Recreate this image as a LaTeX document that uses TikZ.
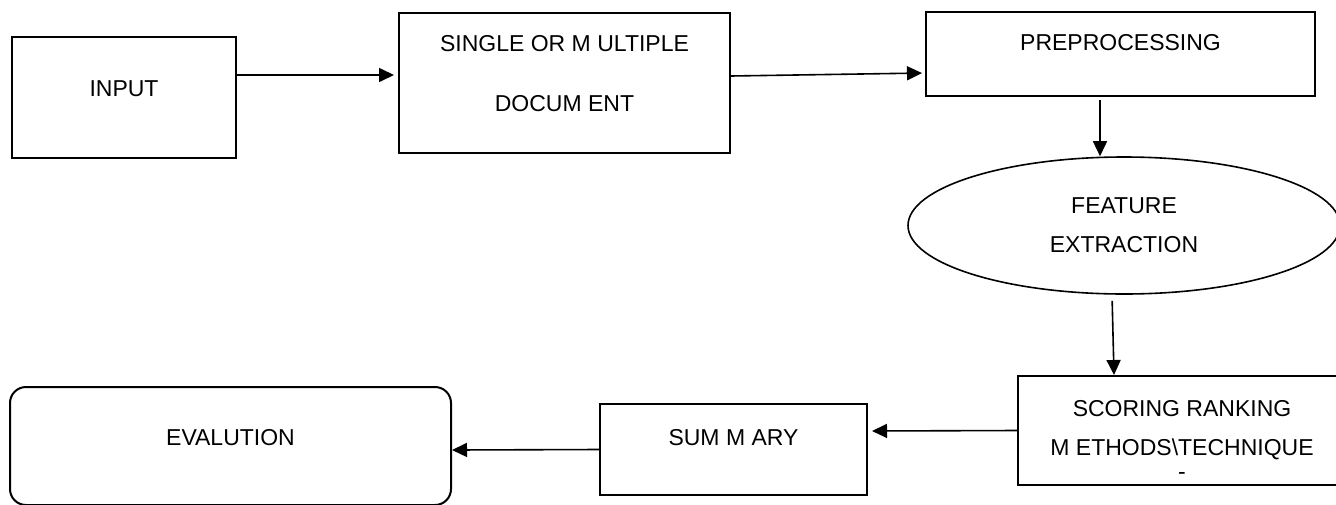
\documentclass[tikz,border=0pt]{standalone}
\usepackage{fontspec}
\setmainfont{Liberation Sans}
\usetikzlibrary{shapes.geometric,arrows.meta}

\begin{document}
\begin{tikzpicture}[x=0.5pt, y=-0.5pt,
        blk/.style={draw, line width=1pt, inner sep=0pt, text height=8.2pt, font=\fontsize{11.5}{19.5}\selectfont},
        ovl/.style={draw, ellipse, line width=0.8pt, inner sep=0pt, align=center, font=\fontsize{11.5}{19.5}\selectfont},
        arr/.style={-{Triangle[length=7.5pt, width=7pt]}, line width=0.8pt}]
        \useasboundingbox (0,0) rectangle (1336,504);
        \clip (0,0) rectangle (1336,504);

        \node[blk, minimum width=112pt, minimum height=60.5pt, text depth=9.5pt] (input) at (124,97.5) {INPUT};
        \node[blk, align=center, minimum width=165.5pt, minimum height=70pt, text height=49.1pt, text depth=20.9pt] (single) at (564.5,83) {SINGLE OR M ULTIPLE\\[10.5pt]DOCUM ENT};
        \node[blk, minimum width=194.5pt, minimum height=42pt, text depth=12pt] (preproc) at (1120.5,54) {PREPROCESSING};
        \node[ovl, minimum width=216pt, minimum height=68.5pt] (feature) at (1124,225.5) {FEATURE\\EXTRACTION};
        \node[blk, align=center, minimum width=164pt, minimum height=54.5pt, text height=51.5pt, text depth=3pt] (scoring) at (1182,430.5) {SCORING RANKING\\M ETHODS\textbackslash TECHNIQUE\\[-7.6pt]-};
        \node[blk, minimum width=133.5pt, minimum height=45.5pt, text depth=12.5pt] (summary) at (733.5,449.5) {SUM M ARY};
        \node[blk, rounded corners=8pt, minimum width=220.5pt, minimum height=59pt, text depth=9pt] (evaluation) at (230.5,446) {EVALUTION};

        \draw[arr, shorten >=2pt] ([yshift=11.25pt]input.east) -- ([yshift=4pt]single.west);
        \draw[arr, shorten >=1.5pt] ([yshift=3.5pt]single.east) -- ([yshift=-9.5pt]preproc.west);
        \draw[arr, shorten <=1.5pt] ([xshift=-10.25pt]preproc.south) -- ([xshift=-12pt]feature.north);
        \draw[arr, shorten <=3pt] ([xshift=-6pt]feature.south) -- ([xshift=-34pt]scoring.north);
        \draw[arr, shorten >=2pt] (scoring.west) -- ([yshift=9.25pt]summary.east);
        \draw[arr] (summary.west) -- ([yshift=-2pt]evaluation.east);
\end{tikzpicture}
\end{document}
